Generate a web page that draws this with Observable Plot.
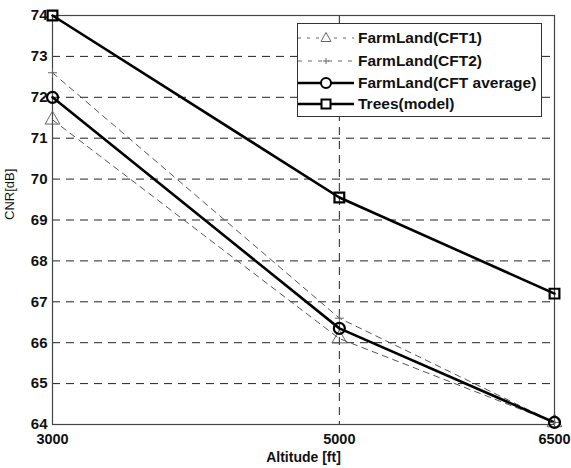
<!DOCTYPE html>
<html><head><meta charset="utf-8">
<script src="https://cdn.jsdelivr.net/npm/d3@7"></script>
<script src="https://cdn.jsdelivr.net/npm/@observablehq/plot@0.6"></script>
<style>
body{margin:0;background:#fff;}
#wrap{position:relative;width:571px;height:468px;font-family:"Liberation Sans",Arial,sans-serif;}
#legend{position:absolute;left:297px;top:23px;width:245px;height:94px;border:1px solid #333;background:#fff;box-sizing:border-box;}
.row{position:absolute;left:0;height:20px;display:flex;align-items:center;font-weight:bold;font-size:15.5px;color:#111;white-space:nowrap;}
.row svg{display:block;margin-right:2px;}
</style></head>
<body><div id="wrap"></div>
<script>
const altitudes = [3000, 5000, 6500];
const cft1 = [71.45, 66.1, 64.05];
const cft2 = [72.6, 66.6, 64.05];
const cftAvg = [72.0, 66.35, 64.05];
const trees = [74.0, 69.55, 67.2];
const yTicks = [64, 65, 66, 67, 68, 69, 70, 71, 72, 73, 74];
const xTicks = [3000, 5000, 6500];
const seriesNames = ["FarmLand(CFT1)", "FarmLand(CFT2)", "FarmLand(CFT average)", "Trees(model)"];

const mk = (vals) => altitudes.map((a, i) => ({alt: a, v: vals[i]}));
const d1 = mk(cft1), d2 = mk(cft2), dA = mk(cftAvg), dT = mk(trees);

const font = '"Liberation Sans", Arial, sans-serif';
const chart = Plot.plot({
  width: 571, height: 468,
  marginLeft: 52, marginRight: 17, marginTop: 15, marginBottom: 44,
  style: {fontFamily: font, fontSize: "15px", fontWeight: "bold", color: "#111", background: "white"},
  x: {domain: [3000, 6500]},
  y: {domain: [64, 74]},
  marks: [
    Plot.ruleY(yTicks.slice(1, -1), {stroke: "#222", strokeWidth: 1, strokeDasharray: "8,6"}),
    Plot.ruleX([5000], {stroke: "#222", strokeWidth: 1, strokeDasharray: "8,6"}),
    Plot.frame({stroke: "#444", strokeWidth: 1.2}),
    Plot.line(d1, {x: "alt", y: "v", stroke: "#555", strokeWidth: 1, strokeDasharray: "6,5"}),
    Plot.line(d2, {x: "alt", y: "v", stroke: "#555", strokeWidth: 1, strokeDasharray: "6,5"}),
    Plot.line(dA, {x: "alt", y: "v", stroke: "#000", strokeWidth: 2.6}),
    Plot.line(dT, {x: "alt", y: "v", stroke: "#000", strokeWidth: 2.6}),
    Plot.dot(d1, {x: "alt", y: "v", symbol: "triangle", r: 5.5, stroke: "#666", strokeWidth: 1, fill: "none"}),
    Plot.dot(d2, {x: "alt", y: "v", symbol: "plus", r: 3, stroke: "#666", strokeWidth: 1}),
    Plot.dot(dA, {x: "alt", y: "v", symbol: "circle", r: 5.5, stroke: "#000", strokeWidth: 2.2, fill: "none"}),
    Plot.dot(dT, {x: "alt", y: "v", symbol: "square", r: 5.5, stroke: "#000", strokeWidth: 2.2, fill: "none"}),
    Plot.axisY({ticks: yTicks, tickSize: 0, tickPadding: 5, label: null, fontWeight: "bold", fontSize: 15}),
    Plot.axisX({ticks: xTicks, tickSize: 0, tickPadding: 9, label: null, tickFormat: d => String(d), fontWeight: "bold", fontSize: 14.5}),
    Plot.text(["Altitude [ft]"], {frameAnchor: "bottom", dy: 37, fontWeight: "bold", fontSize: 14, fill: "#111"}),
    Plot.text(["CNR[dB]"], {frameAnchor: "left", rotate: -90, dx: -43, fontWeight: "normal", fontSize: 13, fill: "#111"})
  ]
});
const wrap = document.getElementById("wrap");
wrap.appendChild(chart);

// legend
const leg = document.createElement("div");
leg.id = "legend";
const styles = [
  {dash: "3,6", w: 1, color: "#666", sym: "triangle"},
  {dash: "4,6", w: 1, color: "#666", sym: "plus"},
  {dash: null, w: 2.4, color: "#000", sym: "circle"},
  {dash: null, w: 2.4, color: "#000", sym: "square"}
];
const rowTops = [4, 27, 49, 70];
seriesNames.forEach((name, i) => {
  const s = styles[i];
  const row = document.createElement("div");
  row.className = "row";
  row.style.top = rowTops[i] + "px";
  const sv = d3.create("svg").attr("width", 58).attr("height", 20);
  sv.append("line").attr("x1", 0).attr("x2", 56).attr("y1", 10).attr("y2", 10)
    .attr("stroke", s.color).attr("stroke-width", s.w).attr("stroke-dasharray", s.dash);
  const g = sv.append("g").attr("transform", "translate(28,10)").attr("fill", "none").attr("stroke", s.color).attr("stroke-width", s.w > 2 ? 2 : 1);
  if (s.sym === "triangle") g.append("path").attr("d", "M0,-5.5L5,3.5L-5,3.5Z").attr("fill", "white");
  if (s.sym === "plus") g.append("path").attr("d", "M-3,0H3M0,-3V3");
  if (s.sym === "circle") g.append("circle").attr("r", 5).attr("fill", "white");
  if (s.sym === "square") g.append("rect").attr("x", -4.5).attr("y", -4.5).attr("width", 9).attr("height", 9).attr("fill", "white");
  row.appendChild(sv.node());
  const t = document.createElement("span");
  t.textContent = name;
  row.appendChild(t);
  leg.appendChild(row);
});
wrap.appendChild(leg);
</script>
</body></html>
